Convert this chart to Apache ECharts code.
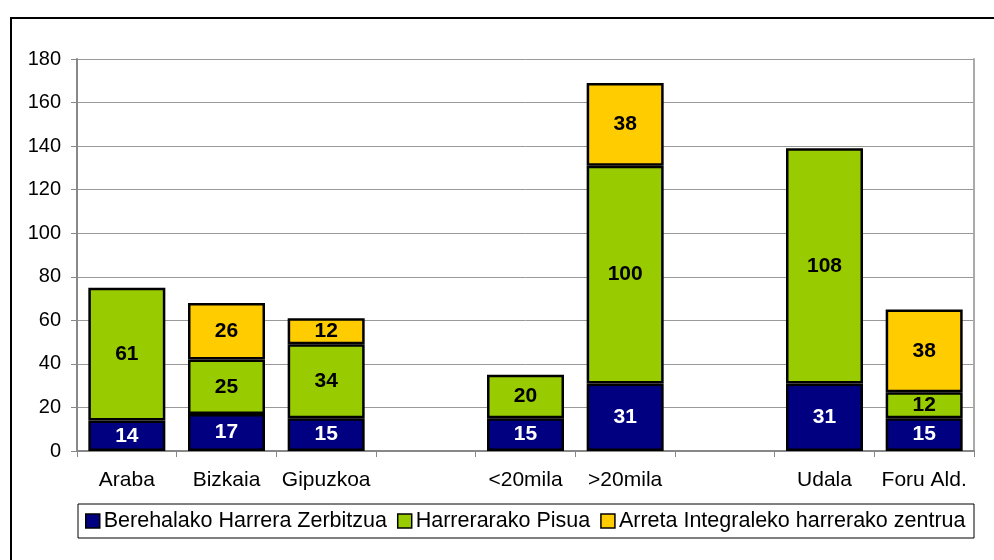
<!DOCTYPE html>
<html>
<head>
<meta charset="utf-8">
<script src="https://cdn.jsdelivr.net/npm/echarts@6/dist/echarts.min.js"></script>
<style>
  html, body { margin: 0; padding: 0; background: #fff; }
  #main { width: 994px; height: 560px; }
</style>
</head>
<body>
<div id="main"></div>
<script>
var myChart = echarts.init(document.getElementById('main'));

// datuak
var categories = ['Araba', 'Bizkaia', 'Gipuzkoa', '', '<20mila', '>20mila', ' ', 'Udala', 'Foru Ald.'];
var berehalako = [14, 17, 15, '-', 15, 31, '-', 31, 15];
var harrerarako = [61, 25, 34, '-', 20, 100, '-', 108, 12];
var arreta = ['-', 26, 12, '-', '-', 38, '-', '-', 38];
var seriesNames = ['Berehalako Harrera Zerbitzua', 'Harrerarako Pisua', 'Arreta Integraleko harrerako zentrua'];
var colors = ['#000080', '#99CC00', '#FFCC00'];

var font = 'Liberation Sans, Arial, sans-serif';

function makeSeries(name, data, color, labelColor) {
  return {
    name: name,
    type: 'bar',
    stack: 'total',
    data: data,
    barWidth: 77,
    itemStyle: { color: color, borderColor: '#000', borderWidth: 2.5 },
    label: {
      show: true,
      position: 'inside',
      color: labelColor,
      fontWeight: 'bold',
      fontSize: 21,
      fontFamily: font
    }
  };
}

const option = {
  animation: false,
  color: colors,
  graphic: [{
    type: 'rect',
    shape: { x: 11, y: 18, width: 1000, height: 600 },
    style: { fill: 'none', stroke: '#000', lineWidth: 2 },
    silent: true
  }, {
    // legend box
    type: 'rect',
    shape: { x: 78, y: 504, width: 896, height: 34 },
    style: { fill: 'none', stroke: '#000', lineWidth: 1 },
    silent: true
  }],
  grid: { left: 77, right: 20, top: 59, bottom: 109 },
  legend: {
    data: seriesNames,
    left: 85,
    top: 510,
    padding: 0,
    itemWidth: 14,
    itemHeight: 14,
    itemGap: 10,
    icon: 'rect',
    itemStyle: { borderColor: '#000', borderWidth: 1.5 },
    textStyle: { fontSize: 21.5, fontFamily: font, color: '#000', padding: [0, 0, 0, -1] }
  },
  xAxis: {
    type: 'category',
    data: categories,
    axisLine: { lineStyle: { color: '#888', width: 2 } },
    axisTick: { show: true, length: 6, lineStyle: { color: '#888', width: 1 } },
    axisLabel: { fontSize: 21, fontFamily: font, color: '#000', margin: 19, interval: 0 }
  },
  yAxis: [{
    type: 'value',
    min: 0,
    max: 180,
    interval: 20,
    axisLine: { show: true, lineStyle: { color: '#888', width: 2 } },
    axisTick: { show: true, length: 6, lineStyle: { color: '#888' } },
    axisLabel: { fontSize: 20, fontFamily: font, color: '#000', margin: 16 },
    splitLine: { lineStyle: { color: '#999', width: 1 } }
  }, {
    type: 'value',
    position: 'right',
    min: 0,
    max: 180,
    interval: 20,
    axisLine: { show: true, lineStyle: { color: '#aaa', width: 2 } },
    axisTick: { show: false },
    axisLabel: { show: false },
    splitLine: { show: false }
  }],
  series: [
    makeSeries(seriesNames[0], berehalako, colors[0], '#fff'),
    makeSeries(seriesNames[1], harrerarako, colors[1], '#000'),
    makeSeries(seriesNames[2], arreta, colors[2], '#000')
  ]
};
myChart.setOption(option);
</script>
</body>
</html>
